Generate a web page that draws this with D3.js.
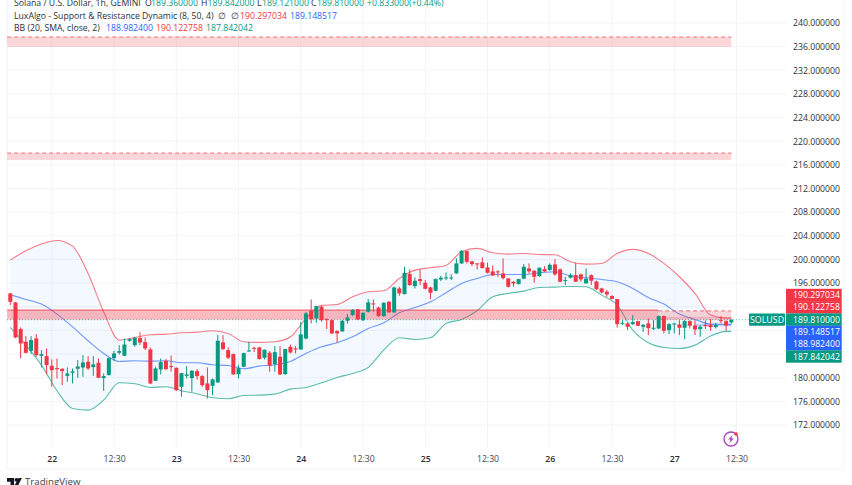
<!DOCTYPE html>
<html>
<head>
<meta charset="utf-8">
<style>
  html, body { margin: 0; padding: 0; background: #fff; overflow: hidden; }
  svg { display: block; }
  text { font-family: "Open Sans", sans-serif; }
</style>
<script src="https://cdn.jsdelivr.net/npm/d3@7"></script>
</head>
<body>
<script>
// hourly candles, first bar is 8 hours before the "22" tick
var firstBar = -8;

var opens = [194.25,192.73,188.22,186.08,184.55,186.64,183.71,183.65,182.02,181.62,181.51,180.32,180.83,181.51,181.73,182.69,181.79,182.52,179.93,180.44,
  183.31,184.21,183.71,186.25,185.51,186.70,186.02,184.78,179.48,181.40,182.86,181.96,181.68,178.46,180.32,179.93,181.11,180.27,179.03,178.63,
  179.20,185.97,184.67,183.99,180.61,181.85,184.44,185.06,185.12,183.37,184.22,182.30,183.54,180.61,185.23,184.95,184.78,186.64,191.32,190.03,
  192.00,189.91,189.74,187.88,187.83,189.63,190.59,191.55,189.74,191.15,192.56,191.88,190.42,192.84,191.04,195.10,194.14,197.53,195.49,196.68,
  196.06,195.27,194.71,196.62,196.85,196.85,197.64,199.33,201.42,199.67,199.33,199.50,198.65,197.98,197.98,197.64,196.79,196.23,195.83,196.74,
  198.48,198.09,197.19,198.37,198.20,199.16,198.32,196.40,196.91,197.36,197.47,195.95,197.36,196.29,195.10,194.54,193.81,193.30,189.12,189.18,
  189.07,189.57,188.62,189.18,188.39,188.33,190.42,188.05,189.07,189.01,188.45,189.57,188.84,188.22,188.95,188.90,188.56,189.74,189.57,189.36];
var highs = [194.37,192.80,188.50,187.03,187.03,187.37,184.67,184.95,183.09,183.26,181.56,181.73,181.56,182.97,183.82,183.65,183.65,183.26,180.72,183.43,
  184.55,185.51,186.64,186.70,186.92,187.71,186.81,185.12,181.85,183.26,183.14,183.76,181.73,180.83,181.96,181.28,181.45,180.44,181.74,179.87,
  187.21,187.21,185.12,184.10,182.13,184.22,186.08,185.23,185.23,184.78,184.50,185.35,185.35,184.89,185.63,185.35,189.46,191.15,193.24,192.17,
  192.11,190.03,189.86,188.05,189.74,190.76,191.61,191.61,191.04,193.30,193.24,192.00,192.79,192.96,195.38,195.38,198.77,198.31,196.96,198.31,
  196.51,195.38,196.79,197.24,197.81,197.53,200.18,201.59,201.47,199.78,199.39,200.35,199.44,198.99,198.20,200.18,196.85,196.34,196.74,199.22,
  199.33,198.20,198.65,198.88,199.33,200.07,198.49,197.08,197.64,199.44,197.64,198.49,197.47,196.40,195.21,194.82,193.97,193.30,189.74,189.29,
  190.59,189.63,189.07,190.03,189.74,190.53,190.53,189.18,189.29,189.74,189.74,189.74,189.74,188.90,189.74,189.91,189.29,190.42,189.74,189.842];
var lows = [192.28,186.70,183.26,184.10,183.99,183.54,181.73,180.61,178.46,179.87,178.74,179.31,179.03,179.99,180.15,181.28,180.32,179.93,177.79,180.38,
  182.86,183.93,183.65,186.08,185.23,185.51,184.67,178.91,179.42,180.55,181.28,181.00,177.73,176.77,179.87,177.62,179.70,178.46,176.49,177.05,
  179.14,184.67,183.15,180.49,179.87,181.79,184.39,184.33,183.09,183.09,181.00,181.00,180.44,180.49,184.10,184.10,184.72,186.47,189.18,189.29,
  189.46,188.22,187.38,185.91,187.77,189.18,190.42,189.74,189.57,191.04,191.15,190.31,190.31,190.98,190.98,193.86,194.09,195.55,195.10,195.66,
  194.93,193.30,194.65,196.34,196.51,196.51,197.58,199.22,199.33,198.88,198.31,198.48,197.64,197.19,197.07,196.62,195.27,195.38,195.78,196.68,
  197.64,196.06,197.07,197.86,198.09,197.25,196.12,195.67,196.79,196.23,196.23,195.95,195.67,194.82,194.26,193.69,193.24,188.45,188.90,188.05,
  188.90,188.73,187.77,187.21,188.05,188.22,187.49,187.38,187.49,187.21,186.53,188.33,187.21,186.92,188.22,187.94,188.33,189.18,187.94,189.121];
var closes = [192.84,186.81,185.79,184.21,186.36,183.82,183.99,182.13,181.28,181.45,181.11,180.72,181.06,181.90,182.58,181.56,182.24,179.99,180.27,183.31,
  184.10,184.50,185.62,186.53,186.75,185.96,184.95,179.03,181.56,182.64,181.45,181.85,177.90,180.77,180.55,181.17,180.27,178.75,177.90,179.71,
  186.25,184.84,183.37,180.55,181.62,184.16,184.61,184.95,183.15,184.72,182.02,184.33,180.55,184.84,184.27,184.78,187.32,190.87,189.91,192.11,
  189.74,189.80,187.49,187.49,189.63,190.20,191.44,189.86,190.98,192.73,192.39,190.42,192.67,191.04,195.27,194.25,197.75,195.66,196.40,196.34,
  195.04,194.37,196.68,196.90,196.96,196.96,199.33,201.47,199.61,199.22,199.22,198.54,197.75,197.30,197.86,196.85,195.38,195.95,196.68,198.77,
  197.98,197.07,198.60,197.98,199.10,197.47,196.23,196.51,197.36,196.23,196.62,196.74,196.40,194.99,194.43,194.09,193.35,189.07,189.29,188.62,
  189.41,188.79,188.95,188.39,188.45,190.42,187.94,189.07,189.18,188.45,189.57,188.79,188.17,188.62,188.73,188.56,188.90,189.63,188.79,189.81];

// Bollinger bands read every third bar
var bandBars = [-8,-5,-2,1,4,7,10,13,16,19,22,25,28,31,34,37,40,43,46,49,52,55,58,61,64,67,70,73,76,79,82,85,88,91,94,97,100,103,106,109,112,115,118,121,124,127,130,131];
var bbUpper = [199.89,201.47,202.60,203.22,202.26,197.64,191.15,186.36,186.81,187.26,187.37,187.60,187.71,187.94,187.49,186.08,185.97,186.08,186.92,190.03,192.23,192.39,193.69,194.54,
  194.70,196.79,198.20,198.60,198.99,201.30,201.87,201.13,200.91,201.02,200.85,200.80,199.61,199.22,199.33,201.02,201.70,201.02,199.33,197.08,194.26,190.59,190.08,190.12];
var bbBasis = [194.03,193.24,192.45,190.76,188.61,186.25,184.10,182.75,182.86,182.80,182.86,182.52,182.52,182.19,182.07,181.51,181.96,182.19,182.75,184.10,185.23,185.91,186.92,188.33,
  189.29,190.98,191.88,192.84,194.37,195.95,196.79,197.47,197.47,197.47,197.75,197.92,197.25,196.91,196.62,196.23,195.10,193.58,192.45,190.76,189.86,189.07,189.01,188.98];
var bbLower = [188.50,185.51,182.13,177.79,174.80,174.51,176.21,179.14,178.97,178.35,178.46,177.79,177.28,176.60,176.43,177.00,177.05,177.22,178.07,178.35,179.14,180.04,180.72,181.74,
  184.67,186.75,186.47,186.75,189.18,189.86,191.32,193.69,194.25,194.65,195.27,195.33,195.44,195.38,193.97,192.28,188.05,185.91,185.12,184.95,185.51,187.04,187.83,187.84];

// support / resistance zones
var zoneTops = [237.63, 218.00, 191.44, 191.30, 190.297];
var zoneBottoms = [235.94, 216.80, 189.81, 189.81, 189.81];
var zoneStarts = [-8.6, -8.6, -8.6, 116.9, 116.9];
var zoneEnds = [131, 131, 116.9, 131, 131];
var zoneFills = ["rgba(242,54,69,.2)", "rgba(242,54,69,.2)", "rgba(242,54,69,.34)", "rgba(242,54,69,.2)", "rgba(242,54,69,.2)"];
var zoneLines = ["dash", "dash", "solid", "dash", "none"];

var priceTicks = d3.range(172, 241, 4).filter(function(d) { return d !== 192 && d !== 188 && d !== 184; });
var gridPrices = d3.range(172, 241, 4);
var timeBars = d3.range(0, 133, 12);
var timeLabels = ["22","12:30","23","12:30","24","12:30","25","12:30","26","12:30","27","12:30"];

var tagLabels = ["190.297034","190.122758","189.810000","189.148517","188.982400","187.842042"];
var tagColors = ["#f23645","#f23645","#089981","#2962ff","#2962ff","#089981"];

var red = "#f23645", green = "#089981", blue = "#2962ff", dark = "#2a2e39", gray = "#434651";

var legend = [
  {y: 3, parts: [[14,"Solana / U.S. Dollar, 1h, GEMINI",dark],[145,"O",dark],[151,"189.360000",green],[201,"H",dark],[207.5,"189.842000",green],[257,"L",dark],[262,"189.121000",green],[311,"C",dark],[317,"189.810000",green],[367,"+0.833000",green],[409,"(+0.44%)",green]]},
  {y: 16, parts: [[14,"LuxAlgo - Support & Resistance Dynamic (8, 50, 4)",dark],[218,"∅",dark],[231,"∅",dark],[240,"190.297034",red],[290,"189.148517",blue]]},
  {y: 28, parts: [[14,"BB (20, SMA, close, 2)",dark],[106,"188.982400",blue],[156,"190.122758",red],[206,"187.842042",green]]}
];

var width = 852, height = 485;

var x = d3.scaleLinear().domain([0, 132]).range([51.8, 736.5]);
var y = d3.scaleLinear().domain([172, 240]).range([425, 23]);

var svg = d3.select("body").append("svg")
  .attr("width", width)
  .attr("height", height);

// frame
svg.append("path")
  .attr("d", "M7,0V469H844V0")
  .attr("fill", "none")
  .attr("stroke", "#f0f3fa");

// grid
svg.selectAll(".hgrid").data(gridPrices).enter().append("line")
  .attr("x1", 7).attr("x2", 786)
  .attr("y1", function(d) { return y(d); })
  .attr("y2", function(d) { return y(d); })
  .attr("stroke", "#f3f4f7");

svg.selectAll(".vgrid").data(timeBars).enter().append("line")
  .attr("x1", function(d) { return x(d); })
  .attr("x2", function(d) { return x(d); })
  .attr("y1", 0).attr("y2", 448)
  .attr("stroke", "#f3f4f7");

// bollinger bands
var bandRows = bandBars.map(function(b, i) {
  return {bar: b, upper: bbUpper[i], basis: bbBasis[i], lower: bbLower[i]};
});

svg.append("path")
  .datum(bandRows)
  .attr("fill", "rgba(33,150,243,.055)")
  .attr("d", d3.area()
    .x(function(d) { return x(d.bar); })
    .y0(function(d) { return y(d.lower); })
    .y1(function(d) { return y(d.upper); })
    .curve(d3.curveMonotoneX));

function bandLine(key, color) {
  svg.append("path")
    .datum(bandRows)
    .attr("fill", "none")
    .attr("stroke", color)
    .attr("stroke-opacity", 0.65)
    .attr("stroke-width", 1.1)
    .attr("d", d3.line()
      .x(function(d) { return x(d.bar); })
      .y(function(d) { return y(d[key]); })
      .curve(d3.curveMonotoneX));
}

bandLine("upper", red);
bandLine("basis", blue);
bandLine("lower", green);

// zones
zoneTops.forEach(function(top, i) {
  svg.append("rect")
    .attr("x", x(zoneStarts[i]))
    .attr("width", x(zoneEnds[i]) - x(zoneStarts[i]))
    .attr("y", y(top))
    .attr("height", y(zoneBottoms[i]) - y(top))
    .attr("fill", zoneFills[i]);

  if (zoneLines[i] !== "none") {
    svg.append("line")
      .attr("x1", x(zoneStarts[i]))
      .attr("x2", x(zoneEnds[i]))
      .attr("y1", y(top))
      .attr("y2", y(top))
      .attr("stroke", red)
      .attr("stroke-opacity", zoneLines[i] === "dash" ? 0.7 : 0.85)
      .attr("stroke-dasharray", zoneLines[i] === "dash" ? "4,3" : null);
  }
});

// lower edge of the dynamic channel
svg.append("rect")
  .attr("x", x(124))
  .attr("width", x(131) - x(124))
  .attr("y", y(189.148))
  .attr("height", y(188.7) - y(189.148))
  .attr("fill", "rgba(41,98,255,.25)");

// last price line
svg.append("line")
  .attr("x1", 7).attr("x2", 749)
  .attr("y1", y(189.81)).attr("y2", y(189.81))
  .attr("stroke", green)
  .attr("stroke-opacity", 0.6)
  .attr("stroke-dasharray", "1,2");

// candles
var bars = opens.map(function(o, i) {
  return {bar: firstBar + i, open: o, high: highs[i], low: lows[i], close: closes[i]};
});

var candle = svg.selectAll(".candle").data(bars).enter().append("g")
  .attr("class", "candle");

candle.append("line")
  .attr("x1", function(d) { return x(d.bar); })
  .attr("x2", function(d) { return x(d.bar); })
  .attr("y1", function(d) { return y(d.high); })
  .attr("y2", function(d) { return y(d.low); })
  .attr("stroke", function(d) { return d.close >= d.open ? green : red; });

candle.append("rect")
  .attr("x", function(d) { return x(d.bar) - 2; })
  .attr("width", 4)
  .attr("y", function(d) { return y(Math.max(d.open, d.close)); })
  .attr("height", function(d) { return Math.max(1, Math.abs(y(d.open) - y(d.close))); })
  .attr("fill", function(d) { return d.close >= d.open ? green : red; });

// axes
var priceAxis = d3.axisRight(y)
  .tickValues(priceTicks)
  .tickSize(0)
  .tickPadding(0)
  .tickFormat(d3.format(".6f"));

var priceG = svg.append("g")
  .attr("transform", "translate(793,0)")
  .call(priceAxis);
priceG.select(".domain").remove();
priceG.selectAll("text")
  .attr("font-size", 8.7)
  .attr("fill", dark)
  .style("font-family", '"Open Sans", sans-serif');

var timeAxis = d3.axisBottom(x)
  .tickValues(timeBars)
  .tickSize(0)
  .tickPadding(0)
  .tickFormat(function(d, i) { return timeLabels[i]; });

var timeG = svg.append("g")
  .attr("transform", "translate(0,456)")
  .call(timeAxis);
timeG.select(".domain").remove();
timeG.selectAll("text")
  .attr("font-size", 8.7)
  .attr("font-weight", function(d, i) { return i % 2 ? 400 : 600; })
  .attr("fill", function(d, i) { return i % 2 ? gray : dark; })
  .style("font-family", '"Open Sans", sans-serif');

// price tags on the right
var tagY = d3.scaleLinear().domain([0, 1]).range([295, 307.3]);

tagLabels.forEach(function(label, i) {
  svg.append("rect")
    .attr("x", 786).attr("width", 55.7)
    .attr("y", tagY(i) - 6.2).attr("height", 12.4)
    .attr("fill", tagColors[i]);
  svg.append("text")
    .attr("x", 793)
    .attr("y", tagY(i))
    .attr("dy", "0.35em")
    .attr("font-size", 8.7)
    .attr("fill", "#fff")
    .text(label);
});

svg.append("rect")
  .attr("x", 749).attr("width", 36)
  .attr("y", tagY(2) - 6.2).attr("height", 12.4)
  .attr("rx", 1)
  .attr("fill", green);
svg.append("text")
  .attr("x", 767)
  .attr("y", tagY(2))
  .attr("dy", "0.35em")
  .attr("text-anchor", "middle")
  .attr("font-size", 8.9)
  .attr("fill", "#fff")
  .text("SOLUSD");

// legend
legend.forEach(function(row) {
  row.parts.forEach(function(part) {
    svg.append("text")
      .attr("x", part[0])
      .attr("y", row.y)
      .attr("dy", "0.35em")
      .attr("font-size", 8.7)
      .attr("fill", part[2])
      .text(part[1]);
  });
});

// bolt badge
var badge = svg.append("g").attr("transform", "translate(731,439)");
badge.append("circle")
  .attr("r", 7)
  .attr("fill", "#fff")
  .attr("stroke", "#ab47bc")
  .attr("stroke-width", 1.4);
badge.append("path")
  .attr("d", "M1.5,-4L-3,0.6H-0.5L-1.5,4L3,-0.6H0.5Z")
  .attr("fill", "#ab47bc");
badge.append("circle")
  .attr("cx", 5).attr("cy", -5).attr("r", 1.8)
  .attr("fill", red);

// logo
var logo = svg.append("g").attr("transform", "translate(7,478) scale(1.1)").attr("fill", "#131722");
logo.append("path").attr("d", "M0,0H6.5V7H3.2V3.3H0Z");
logo.append("circle").attr("cx", 8.6).attr("cy", 1.7).attr("r", 1.7);
logo.append("path").attr("d", "M10.5,0H13.5L10,7H6.8Z");

svg.append("text")
  .attr("x", 25)
  .attr("y", 485)
  .attr("font-size", 9.7)
  .attr("fill", "#3c3f47")
  .text("TradingView");
</script>
</body>
</html>
